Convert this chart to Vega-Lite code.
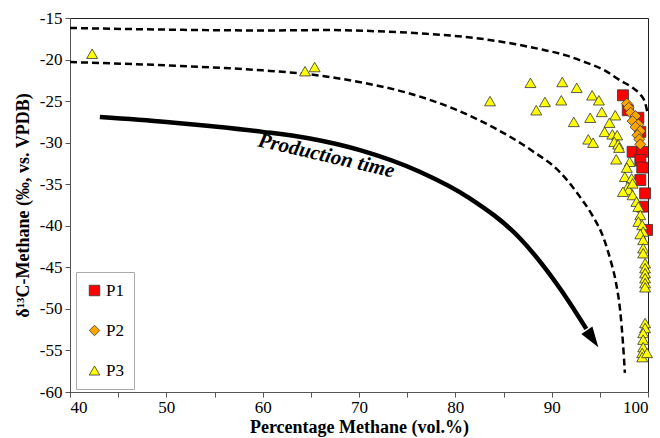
{
  "$schema": "https://vega.github.io/schema/vega-lite/v6.json",
  "width": 578,
  "height": 374,
  "autosize": {"type": "none"},
  "padding": {"left": 70, "top": 18, "right": 12, "bottom": 46},
  "background": "white",
  "config": {
    "view": {"stroke": "#222", "strokeWidth": 1},
    "font": "Liberation Serif",
    "axis": {
      "grid": false,
      "labelFont": "Liberation Serif",
      "labelFontSize": 17,
      "labelColor": "#000",
      "titleFont": "Liberation Serif",
      "titleFontSize": 18,
      "titleFontWeight": "bold",
      "titleColor": "#000",
      "domainColor": "#555",
      "tickColor": "#555",
      "tickSize": 5
    }
  },
  "datasets": {
    "points": [
      {"series": "P1", "x": 97.4, "y": -24.3},
      {"series": "P1", "x": 97.9, "y": -26.1},
      {"series": "P1", "x": 99.0, "y": -27.0},
      {"series": "P1", "x": 99.2, "y": -28.7},
      {"series": "P1", "x": 98.4, "y": -31.1},
      {"series": "P1", "x": 99.4, "y": -31.1},
      {"series": "P1", "x": 99.2, "y": -32.1},
      {"series": "P1", "x": 99.4, "y": -33.0},
      {"series": "P1", "x": 99.2, "y": -34.5},
      {"series": "P1", "x": 99.7, "y": -36.1},
      {"series": "P1", "x": 99.4, "y": -37.7},
      {"series": "P1", "x": 99.9, "y": -40.5},
      {"series": "P2", "x": 97.8, "y": -25.3},
      {"series": "P2", "x": 98.0, "y": -25.8},
      {"series": "P2", "x": 98.2, "y": -26.4},
      {"series": "P2", "x": 98.7, "y": -26.8},
      {"series": "P2", "x": 98.4, "y": -27.4},
      {"series": "P2", "x": 99.0, "y": -27.8},
      {"series": "P2", "x": 98.7, "y": -28.1},
      {"series": "P2", "x": 99.2, "y": -28.6},
      {"series": "P2", "x": 98.9, "y": -29.1},
      {"series": "P2", "x": 99.1, "y": -29.6},
      {"series": "P2", "x": 99.2, "y": -30.2},
      {"series": "P3", "x": 42.3, "y": -19.3},
      {"series": "P3", "x": 64.4, "y": -21.4},
      {"series": "P3", "x": 65.4, "y": -20.9},
      {"series": "P3", "x": 83.6, "y": -25.0},
      {"series": "P3", "x": 87.8, "y": -22.8},
      {"series": "P3", "x": 88.4, "y": -26.1},
      {"series": "P3", "x": 89.3, "y": -25.1},
      {"series": "P3", "x": 91.1, "y": -22.7},
      {"series": "P3", "x": 91.0, "y": -24.9},
      {"series": "P3", "x": 92.6, "y": -23.4},
      {"series": "P3", "x": 94.2, "y": -24.3},
      {"series": "P3", "x": 94.9, "y": -24.9},
      {"series": "P3", "x": 92.3, "y": -27.5},
      {"series": "P3", "x": 94.0, "y": -27.0},
      {"series": "P3", "x": 95.2, "y": -26.3},
      {"series": "P3", "x": 96.6, "y": -26.7},
      {"series": "P3", "x": 96.0, "y": -27.6},
      {"series": "P3", "x": 95.5, "y": -28.7},
      {"series": "P3", "x": 96.3, "y": -29.0},
      {"series": "P3", "x": 96.8, "y": -29.1},
      {"series": "P3", "x": 96.5, "y": -29.9},
      {"series": "P3", "x": 96.9, "y": -30.2},
      {"series": "P3", "x": 97.0, "y": -30.6},
      {"series": "P3", "x": 93.8, "y": -29.6},
      {"series": "P3", "x": 94.3, "y": -30.0},
      {"series": "P3", "x": 96.7, "y": -32.0},
      {"series": "P3", "x": 98.1, "y": -32.3},
      {"series": "P3", "x": 97.8, "y": -33.0},
      {"series": "P3", "x": 97.6, "y": -34.1},
      {"series": "P3", "x": 98.3, "y": -34.3},
      {"series": "P3", "x": 97.9, "y": -35.3},
      {"series": "P3", "x": 98.0, "y": -35.7},
      {"series": "P3", "x": 98.4, "y": -34.9},
      {"series": "P3", "x": 97.4, "y": -35.9},
      {"series": "P3", "x": 98.4, "y": -36.3},
      {"series": "P3", "x": 98.8, "y": -37.1},
      {"series": "P3", "x": 99.0, "y": -37.7},
      {"series": "P3", "x": 99.2, "y": -38.7},
      {"series": "P3", "x": 99.0, "y": -39.5},
      {"series": "P3", "x": 99.4, "y": -39.9},
      {"series": "P3", "x": 99.5, "y": -40.7},
      {"series": "P3", "x": 99.2, "y": -41.0},
      {"series": "P3", "x": 99.5, "y": -41.7},
      {"series": "P3", "x": 99.5, "y": -42.7},
      {"series": "P3", "x": 99.5, "y": -43.3},
      {"series": "P3", "x": 99.7, "y": -44.5},
      {"series": "P3", "x": 99.7, "y": -45.1},
      {"series": "P3", "x": 99.7, "y": -45.7},
      {"series": "P3", "x": 99.7, "y": -46.3},
      {"series": "P3", "x": 99.7, "y": -46.9},
      {"series": "P3", "x": 99.7, "y": -47.4},
      {"series": "P3", "x": 99.7, "y": -51.7},
      {"series": "P3", "x": 99.7, "y": -52.3},
      {"series": "P3", "x": 99.5, "y": -52.9},
      {"series": "P3", "x": 99.5, "y": -53.7},
      {"series": "P3", "x": 99.5, "y": -54.6},
      {"series": "P3", "x": 99.4, "y": -55.3},
      {"series": "P3", "x": 99.4, "y": -55.8},
      {"series": "P3", "x": 99.9, "y": -55.3}
    ],
    "curves": [
      {"curve": "upper", "i": 0, "x": 40, "y": -16.2},
      {"curve": "upper", "i": 1, "x": 50, "y": -16.4},
      {"curve": "upper", "i": 2, "x": 60, "y": -16.5},
      {"curve": "upper", "i": 3, "x": 67, "y": -16.45},
      {"curve": "upper", "i": 4, "x": 72, "y": -16.6},
      {"curve": "upper", "i": 5, "x": 77, "y": -16.9},
      {"curve": "upper", "i": 6, "x": 82, "y": -17.4},
      {"curve": "upper", "i": 7, "x": 86, "y": -18.1},
      {"curve": "upper", "i": 8, "x": 89, "y": -18.8},
      {"curve": "upper", "i": 9, "x": 91.5, "y": -19.5},
      {"curve": "upper", "i": 10, "x": 93.2, "y": -20.2},
      {"curve": "upper", "i": 11, "x": 95.5, "y": -21.3},
      {"curve": "upper", "i": 12, "x": 97.1, "y": -22.5},
      {"curve": "upper", "i": 13, "x": 98.4, "y": -23.4},
      {"curve": "upper", "i": 14, "x": 99.2, "y": -24.2},
      {"curve": "upper", "i": 15, "x": 99.7, "y": -25.2},
      {"curve": "upper", "i": 16, "x": 99.95, "y": -26.4},
      {"curve": "lower", "i": 0, "x": 40, "y": -20.3},
      {"curve": "lower", "i": 1, "x": 50, "y": -20.7},
      {"curve": "lower", "i": 2, "x": 60, "y": -21.3},
      {"curve": "lower", "i": 3, "x": 65, "y": -21.8},
      {"curve": "lower", "i": 4, "x": 70, "y": -22.7},
      {"curve": "lower", "i": 5, "x": 75, "y": -24.0},
      {"curve": "lower", "i": 6, "x": 80, "y": -26.0},
      {"curve": "lower", "i": 7, "x": 84, "y": -28.2},
      {"curve": "lower", "i": 8, "x": 88, "y": -31.0},
      {"curve": "lower", "i": 9, "x": 90.9, "y": -33.6},
      {"curve": "lower", "i": 10, "x": 92.8, "y": -36.3},
      {"curve": "lower", "i": 11, "x": 94.3, "y": -38.9},
      {"curve": "lower", "i": 12, "x": 95.4, "y": -41.5},
      {"curve": "lower", "i": 13, "x": 96.1, "y": -44.1},
      {"curve": "lower", "i": 14, "x": 96.7, "y": -47.0},
      {"curve": "lower", "i": 15, "x": 97.1, "y": -50.1},
      {"curve": "lower", "i": 16, "x": 97.4, "y": -54.1},
      {"curve": "lower", "i": 17, "x": 97.6, "y": -57.7}
    ],
    "arrow": [
      {"i": 0, "x": 43.1, "y": -26.9},
      {"i": 1, "x": 50, "y": -27.5},
      {"i": 2, "x": 54.5, "y": -28.0},
      {"i": 3, "x": 60, "y": -28.7},
      {"i": 4, "x": 64.9, "y": -29.5},
      {"i": 5, "x": 70.1, "y": -30.9},
      {"i": 6, "x": 76.3, "y": -33.5},
      {"i": 7, "x": 81.5, "y": -36.7},
      {"i": 8, "x": 86.7, "y": -41.5},
      {"i": 9, "x": 90.9, "y": -47.6},
      {"i": 10, "x": 93.6, "y": -52.4}
    ],
    "arrowhead": [{"x": 94.25, "y": -53.6}],
    "label": [{"text": "Production time", "x": 66.6, "y": -31.6}]
  },
  "encoding": {
    "x": {
      "field": "x",
      "type": "quantitative",
      "scale": {"domain": [40, 100], "nice": false, "zero": false},
      "axis": {
        "title": "Percentage Methane (vol.%)",
        "values": [40, 45, 50, 55, 60, 65, 70, 75, 80, 85, 90, 95, 100],
        "labelExpr": "datum.value % 10 == 0 ? datum.value + '' : ''",
        "labelPadding": 2,
        "titlePadding": 3
      }
    },
    "y": {
      "field": "y",
      "type": "quantitative",
      "scale": {"domain": [-60, -15], "nice": false, "zero": false},
      "axis": {
        "title": "δ¹³C-Methane (‰, vs. VPDB)",
        "values": [-60, -55, -50, -45, -40, -35, -30, -25, -20, -15],
        "labelExpr": "datum.value + ''",
        "labelPadding": 3,
        "titlePadding": 7
      }
    }
  },
  "layer": [
    {
      "data": {"name": "curves"},
      "mark": {"type": "line", "color": "#000", "strokeWidth": 2.5, "strokeDash": [7, 4], "interpolate": "monotone"},
      "encoding": {
        "detail": {"field": "curve", "type": "nominal"},
        "order": {"field": "i", "type": "quantitative"}
      }
    },
    {
      "data": {"name": "arrow"},
      "mark": {"type": "line", "color": "#000", "strokeWidth": 4.5, "interpolate": "monotone"},
      "encoding": {
        "order": {"field": "i", "type": "quantitative"}
      }
    },
    {
      "data": {"name": "arrowhead"},
      "mark": {"type": "point", "shape": "M0,-1L0.65,1L-0.65,1Z", "filled": true, "color": "#000", "opacity": 1, "size": 420, "angle": 146}
    },
    {
      "data": {"name": "label"},
      "mark": {"type": "text", "font": "Liberation Serif", "fontSize": 21, "fontWeight": "bold", "fontStyle": "italic", "angle": 13, "color": "#000"},
      "encoding": {"text": {"field": "text"}}
    },
    {
      "data": {"name": "points"},
      "mark": {"type": "point", "filled": true, "opacity": 1, "stroke": "#333", "strokeWidth": 0.8, "size": 120},
      "encoding": {
        "color": {
          "field": "series",
          "type": "nominal",
          "scale": {"domain": ["P1", "P2", "P3"], "range": ["#FF0000", "#FFA500", "#FFFF00"]},
          "legend": {"title": null, "orient": "none", "legendX": 6, "legendY": 254, "strokeColor": "#aaa", "fillColor": "white", "padding": 10, "rowPadding": 22, "symbolSize": 110, "symbolStrokeColor": "#333", "symbolStrokeWidth": 0.8, "labelFont": "Liberation Serif", "labelFontSize": 17, "labelColor": "#000", "labelOffset": 3}
        },
        "shape": {
          "field": "series",
          "type": "nominal",
          "scale": {"domain": ["P1", "P2", "P3"], "range": ["square", "diamond", "triangle-up"]},
          "legend": {"title": null, "orient": "none", "legendX": 6, "legendY": 254, "strokeColor": "#aaa", "fillColor": "white", "padding": 10, "rowPadding": 22, "symbolSize": 110, "symbolStrokeColor": "#333", "symbolStrokeWidth": 0.8, "labelFont": "Liberation Serif", "labelFontSize": 17, "labelColor": "#000", "labelOffset": 3}
        }
      }
    }
  ]
}
